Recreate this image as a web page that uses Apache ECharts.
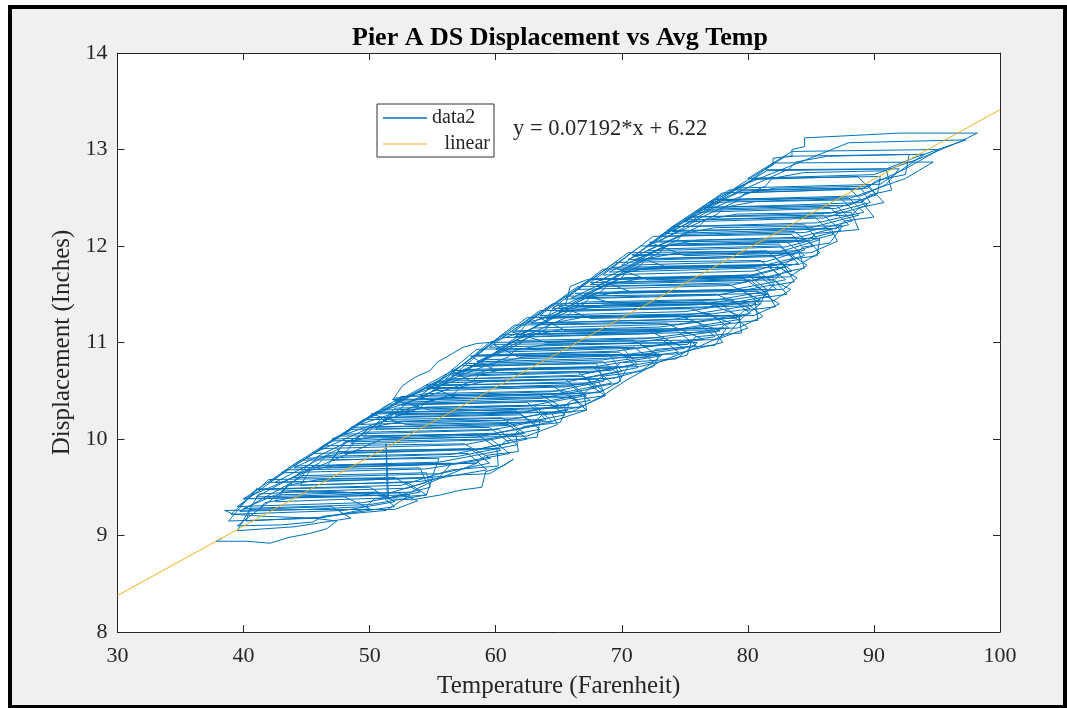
<!DOCTYPE html>
<html>
<head>
<meta charset="utf-8">
<script src="https://cdn.jsdelivr.net/npm/echarts@6/dist/echarts.min.js"></script>
<style>
html,body{margin:0;padding:0;background:#ffffff;}
#chart{width:1067px;height:708px;}
</style>
</head>
<body>
<div id="chart"></div>
<script>
// ---- tick values ----
const xTickMin = 30, xTickMax = 100, xTickStep = 10;
const yTickMin = 8, yTickMax = 14, yTickStep = 1;

// ---- data2: temperature (F) vs displacement (in) ----
const risingCold = [
  [38.3,8.97],[37.8,8.94],[40.3,8.94],[42.1,8.92],[43.6,8.98],[45.2,9.02],[46.6,9.07],[47.4,9.15],[45.5,9.18],[41.5,9.2],[39.2,9.22],
  [38.5,9.26],[45.5,9.27],[52,9.27],[53.8,9.36],[52.3,9.44],[44,9.45],[41.2,9.43],
  [39.5,9.05],[44,9.09],[48.5,9.18],[47,9.3],[40.5,9.27],
  [40.2,9.15],[46.3,9.19],[52,9.3],[50.5,9.45],[42.5,9.42],
  [40,9.28],[50,9.32],[54.5,9.42],[53,9.55],[43.5,9.52],
  [42.5,9.35],[51.5,9.39],[54.8,9.5],[54.5,9.65],[44.5,9.62],
  [43,9.45],[53,9.49],[55.5,9.6],[56.5,9.75],[45.5,9.72],
  [44.5,9.52],[54,9.56],[59.3,9.68],[57.8,9.85],[46,9.82],
  [44,9.6],[55.5,9.64],[59.5,9.75],[58,9.9],[47.5,9.87],
  [46.5,9.7],[56.5,9.74],[61.1,9.85],[59.6,10.0],[48,9.97],
  [47,9.78],[57,9.82],[61.7,9.94],[60.2,10.1],[49.5,10.07],
  [48,9.85],[58.5,9.89],[62.5,10.0],[61,10.15],[50,10.12],
  [48.5,9.95],[59,9.99],[63.5,10.1],[62,10.25],[51,10.22],
  [49.5,10.02],[60,10.06],[64.5,10.18],[63,10.35],[52,10.32],
  [50.5,10.1],[61,10.14],[65.5,10.25],[64,10.4],[53,10.37]
];
const risingMid = [
  [51,10.18],[62,10.22],[67,10.34],[65.5,10.5],[54.5,10.47],
  [51.9,10.42],[52.6,10.55],[53.6,10.64],[54.8,10.71],[55.4,10.8],[56.1,10.85],[57.4,10.95],[58.5,10.99],[59.5,11.0],[60.7,11.05],
  [61.9,11.1],[62.5,11.21],[64.1,11.26],[64.6,11.37],[65.6,11.41],[65.9,11.58],[67.2,11.65],[74,11.67],[80,11.7],
  [81.5,11.55],[81,11.4],[79.5,11.25],[78.5,11.1],[76,10.95],[73,10.8],[70.5,10.62],[68.5,10.45],[66,10.28],[58,10.26],[55,10.25],
  [52,10.25],[62.5,10.29],[67.5,10.4],[66,10.55],[55.5,10.52],
  [52.5,10.35],[64,10.39],[68.5,10.5],[67,10.65],[56.5,10.62],
  [54,10.42],[64.5,10.46],[69.2,10.58],[67.7,10.75],[57.5,10.72],
  [55,10.5],[65.5,10.54],[70,10.65],[68.5,10.8],[58.5,10.77],
  [55.5,10.58],[66.5,10.62],[71.3,10.74],[69.8,10.9],[59.5,10.87],
  [57,10.65],[67.5,10.69],[72.5,10.8],[71,10.95],[60.5,10.92],
  [58,10.75],[68.5,10.79],[74.5,10.9],[73,11.05],[61.5,11.02],
  [59,10.82],[69.5,10.86],[75.9,10.97],[74.4,11.12],[62.5,11.09],
  [60,10.9],[71,10.94],[77.4,11.06],[75.9,11.22],[63.5,11.19],
  [61,11.0],[72,11.04],[78.5,11.15],[77,11.3],[64.5,11.27],
  [62,11.08],[73.5,11.12],[79.4,11.24],[77.9,11.4],[66,11.37],
  [63,11.15],[74.5,11.19],[80.2,11.3],[78.7,11.45],[67,11.42],
  [64,11.25],[75.5,11.29],[81,11.4],[79.5,11.55],[68,11.52],
  [65,11.32],[76.5,11.36],[81.7,11.48],[80.2,11.65],[69,11.62]
];
const risingWarm = [
  [66,11.4],[77.5,11.44],[82.3,11.55],[80.8,11.7],[70,11.67],
  [67,11.5],[78.5,11.54],[83,11.65],[81.5,11.8],[71,11.77],
  [68,11.58],[79.5,11.62],[83.5,11.74],[82,11.9],[72,11.87],
  [69,11.65],[80,11.69],[84,11.82],[82.5,12.0],[73,11.97],
  [70,11.75],[81,11.79],[84.5,11.9],[83,12.05],[74,12.02],
  [71,11.85],[82,11.89],[85.2,12.0],[83.7,12.15],[75,12.12],
  [72,11.95],[83,11.99],[86.8,12.12],[85.3,12.3],[76,12.27],
  [73,12.05],[84,12.09],[88,12.22],[86.5,12.4],[77,12.37],
  [74,12.15],[85,12.19],[88.8,12.32],[87.3,12.5],[78,12.47],
  [75,12.25],[86,12.29],[89.5,12.42],[88,12.6],[79.5,12.57],
  [76,12.35],[87,12.39],[90.2,12.53],[88.7,12.72],[80.5,12.69],
  [77,12.45],[88,12.49],[92.5,12.7],[94.7,12.87],[82,12.86],
  [79,12.55],[89,12.59],[92.5,12.8],[95.2,13.0],[83.5,12.98],
  [80,12.7],[90,12.74],[93.5,12.9],[96.8,13.08],[98.2,13.17],[92,13.17],[84.5,13.12]
];
const fallingWarm = [
  [84.5,13.03],[83.5,13.0],[83.5,12.93],[82,12.91],[82,12.84],[81.3,12.79],
  [81.3,12.77],[91,12.8],[93.3,12.92],[97.3,13.1],[88,13.07],
  [79,12.6],[90.5,12.64],[92.1,12.78],[94,12.95],[83,12.93],
  [77.5,12.48],[89,12.52],[91,12.64],[92,12.8],[81.5,12.78],
  [76.5,12.38],[88,12.42],[90.3,12.55],[90.5,12.72],[80.5,12.7],
  [75.5,12.3],[86.5,12.34],[89.7,12.45],[89,12.6],[78.5,12.58],
  [74,12.2],[85.5,12.24],[89.2,12.35],[88,12.5],[77.5,12.48],
  [73,12.1],[84.5,12.14],[88.3,12.26],[87,12.42],[76.5,12.4],
  [72,12.0],[83.5,12.04],[87.4,12.16],[86,12.32],[75.5,12.3],
  [71,11.9],[82.5,11.94],[85.6,12.06],[84.5,12.22],[74,12.2],
  [70,11.8],[81.5,11.84],[84.5,11.96],[83.5,12.12],[72.5,12.1],
  [68.5,11.7],[80.5,11.74],[83.7,11.86],[82.5,12.02],[71.5,12.0],
  [67.5,11.62],[79.5,11.66],[83,11.78],[81.5,11.95],[70.5,11.93],
  [66.5,11.55],[78.5,11.59],[82.5,11.7],[81,11.85],[69.5,11.83],
  [65.5,11.45],[77.5,11.49],[82.1,11.6],[80.5,11.78],[68.5,11.76]
];
const fallingMid = [
  [64.5,11.35],[76,11.39],[81.6,11.5],[79.5,11.68],[67.5,11.66],
  [63.5,11.28],[75,11.32],[81,11.44],[78.5,11.6],[66.5,11.58],
  [62.5,11.2],[74,11.24],[80.2,11.35],[77.5,11.5],[65.5,11.48],
  [61.5,11.12],[73,11.16],[79.5,11.27],[76.5,11.42],[64.5,11.4],
  [60.5,11.05],[72,11.09],[78.7,11.2],[75.5,11.35],[63.5,11.33],
  [59.5,10.95],[70.5,10.99],[77.8,11.12],[74.5,11.28],[62.5,11.26],
  [58.5,10.87],[69.5,10.91],[76.5,11.03],[73.5,11.2],[61.5,11.18],
  [57.5,10.78],[68.5,10.82],[75,10.94],[72.5,11.1],[60.5,11.08],
  [57,10.7],[67.5,10.74],[73,10.86],[71,11.02],[59.5,11.0],
  [56,10.62],[66.5,10.66],[71.2,10.78],[70,10.95],[58.5,10.93],
  [55,10.55],[65.5,10.59],[70,10.7],[69,10.88],[58.3,10.86],
  [54,10.45],[64.5,10.49],[68.6,10.6],[68,10.78],[57.3,10.76],
  [52,10.38],[63.5,10.42],[68,10.53],[66.5,10.7],[56.5,10.68],
  [51,10.3],[62.5,10.34],[67.2,10.45],[65.5,10.62],[55.5,10.6]
];
const fallingCold = [
  [50,10.22],[61.5,10.26],[66.6,10.38],[64.5,10.55],[54.5,10.53],
  [49,10.15],[60.5,10.19],[65.7,10.3],[63.5,10.46],[52.5,10.44],
  [48,10.05],[59.5,10.09],[64,10.2],[62.5,10.38],[51.5,10.36],
  [47,9.98],[58.5,10.02],[63.3,10.14],[61.5,10.3],[50.5,10.28],
  [46,9.9],[57.5,9.94],[62.3,10.06],[60.5,10.22],[49.5,10.2],
  [45,9.8],[56.5,9.84],[61.1,9.96],[59.5,10.12],[48.5,10.1],
  [44,9.72],[55.5,9.76],[60.4,9.88],[58.5,10.05],[47.5,10.03],
  [43,9.65],[54.5,9.69],[59.6,9.8],[57.5,9.95],[46.5,9.93],
  [42,9.55],[53.5,9.59],[57.4,9.63],[59.5,9.64],[61.4,9.79],[60.6,9.72],[59.2,9.66],[58.9,9.5],[57.2,9.47],[55.6,9.42],[53.4,9.37],[51.4,9.38],[51.3,9.95],[51.5,9.4],[48,9.45],
  [41,9.48],[52.5,9.52],[55,9.62],[55.5,9.8],[44.5,9.78],
  [40,9.38],[51,9.42],[54.5,9.55],[54,9.7],[43.5,9.68],
  [39.5,9.3],[49.5,9.34],[54,9.45],[52,9.6],[42,9.58],
  [39,9.22],[48,9.26],[52,9.35],[50,9.5],[41,9.48],
  [38.8,9.15],[46,9.18],[50,9.28],[48,9.4],[40,9.38]
];
const autumnSwing = [
  [51,10.0],[62.5,10.03],[64.9,10.15],[64.4,10.28],[50.1,10.26],
  [52.9,10.15],[64.4,10.18],[67.2,10.3],[66,10.43],[51.8,10.41],
  [54.8,10.3],[66.7,10.33],[68.7,10.45],[67.2,10.58],[54.5,10.56],
  [56.5,10.45],[68.2,10.48],[69.9,10.6],[69.6,10.73],[56.5,10.71],
  [58,10.6],[69.4,10.63],[72.5,10.75],[73,10.88],[58,10.86],
  [59.8,10.72],[71.4,10.75],[75.2,10.87],[75.5,11.0],[59.8,10.98],
  [61.8,10.85],[74.2,10.88],[78,11.0],[77.3,11.13],[61.3,11.11],
  [64,11.0],[77.5,11.03],[80,11.15],[78.8,11.28],[63.4,11.26],
  [65.6,11.12],[79.2,11.15],[81.2,11.27],[80,11.4],[65,11.38],
  [67.5,11.25],[80.5,11.28],[82.5,11.4],[80.8,11.53],[66.3,11.51],
  [69.5,11.4],[82,11.43],[83.4,11.55],[81.4,11.68],[68,11.66],
  [70.8,11.52],[82.8,11.55],[83.9,11.67],[82.2,11.8],[69.3,11.78],
  [72.1,11.65],[83.3,11.68],[84.7,11.8],[83.2,11.93],[70.8,11.91],
  [73.6,11.78],[84.1,11.81],[85.7,11.93],[84.8,12.06],[72.2,12.04],
  [75,11.9],[85,11.93],[87.1,12.05],[86.6,12.18],[73.6,12.16]
];
const lateFall = [
  [78,12.55],[84,12.57],[89.5,12.6],[90.2,12.68],[92.5,12.74],[92.8,12.95],[86.3,12.93],[83.8,12.87],[83.3,12.8],
  [76.5,12.4],[82.5,12.42],[89,12.45],[89.7,12.53],[91.4,12.58],[91,12.78],[84.4,12.76],[81.9,12.7],[81.4,12.62],
  [75,12.27],[81,12.29],[88.2,12.32],[88.9,12.4],[90.8,12.45],[89.6,12.62],[82.2,12.6],[79.7,12.54],[79.2,12.47],
  [73.5,12.13],[79.5,12.15],[87,12.18],[87.7,12.26],[90,12.3],[88.9,12.48],[80.6,12.46],[78.1,12.4],[77.6,12.33],
  [72,12.0],[78,12.02],[84.7,12.05],[85.4,12.13],[88.8,12.17],[88.2,12.35],[79.1,12.33],[76.6,12.27],[76.1,12.2],
  [70.5,11.86],[76.5,11.88],[83.7,11.91],[84.4,11.99],[86.5,12.03],[87.5,12.21],[77.4,12.19],[74.9,12.13],[74.4,12.06],
  [69,11.73],[75,11.75],[82.7,11.78],[83.4,11.86],[85.5,11.9],[85.7,12.08],[76,12.06],[73.5,12.0],[73,11.93],
  [67.5,11.6],[73.5,11.62],[82.1,11.65],[82.8,11.73],[84.5,11.77],[84,11.95],[74.5,11.93],[72,11.87],[71.5,11.8],
  [66,11.46],[72,11.48],[81.3,11.51],[82,11.59],[83.7,11.63],[82.8,11.81],[72.9,11.79],[70.4,11.73],[69.9,11.66],
  [64.5,11.33],[70.5,11.35],[80.3,11.38],[81,11.46],[83.1,11.5],[81.9,11.68],[71.4,11.66],[68.9,11.6],[68.4,11.53],
  [62.8,11.2],[69,11.22],[79,11.25],[79.7,11.33],[82.2,11.37],[81.4,11.55],[70,11.53],[67.5,11.47],[67,11.4]
];
const earlyWinter = [
  [61.5,11.06],[67.5,11.08],[77.5,11.11],[78.2,11.19],[80.8,11.23],[80.6,11.41],[68.6,11.39],[66.1,11.33],[65.6,11.26],
  [60,10.93],[66,10.95],[75.2,10.98],[75.9,11.06],[79.5,11.1],[79.3,11.28],[66.9,11.26],[64.4,11.2],[63.9,11.13],
  [58.5,10.8],[64.5,10.82],[72,10.85],[72.7,10.93],[77.4,10.97],[78.3,11.15],[65.1,11.13],[62.6,11.07],[62.1,11.0],
  [56.5,10.66],[62.5,10.68],[69.2,10.71],[69.9,10.79],[74.3,10.83],[76,11.0],[64,10.98],[61.5,10.92],[61,10.85],
  [54.5,10.52],[60.5,10.54],[67.7,10.57],[68.4,10.65],[71.5,10.7],[73.2,10.87],[62.3,10.85],[60,10.79],[59.5,10.72],
  [52,10.4],[58.5,10.42],[66.8,10.45],[67.5,10.53],[69.7,10.58],[70.5,10.75],[61,10.73],[58.7,10.67],[58.2,10.6],
  [50.5,10.27],[57,10.29],[65.3,10.32],[66,10.4],[68.7,10.45],[68.1,10.62],[59.2,10.6],[57.2,10.54],[56.7,10.47],
  [48.5,10.12],[55,10.14],[63,10.17],[63.7,10.25],[67.2,10.3],[67,10.47],[57,10.45],[54.5,10.39],[54,10.32],
  [47,10.0],[53.5,10.02],[61.5,10.05],[62.2,10.13],[65.1,10.17],[65.8,10.35],[54.5,10.33],[52,10.27],[51.4,10.2],
  [45.5,9.85],[52,9.87],[60.1,9.9],[60.8,9.98],[63.3,10.02],[63.5,10.2],[52.5,10.18],[50,10.12],[49.5,10.05],
  [44,9.7],[50,9.72],[58.5,9.75],[59.2,9.83],[61.8,9.87],[61.6,10.05],[50.6,10.03],[48.2,9.97],[47.6,9.9],
  [42.5,9.55],[48.5,9.57],[54.5,9.6],[56.5,9.68],[60.2,9.72],[60.1,9.9],[49,9.88],[46.5,9.82],[46,9.75],
  [41,9.4],[47,9.42],[53.3,9.45],[54,9.5],[54.8,9.55],[58.5,9.75],[47.5,9.73],[45,9.67],[44.5,9.6],
  [39.7,9.25],[45,9.27],[49.7,9.3],[50.4,9.38],[54.5,9.42],[55,9.6],[46,9.58],[43.5,9.52],[43,9.45],
  [39.5,9.1],[43,9.11],[45.5,9.14],[46.3,9.2],[51.3,9.26],[53.2,9.42],[44.2,9.4],[41.7,9.34],[41.2,9.27]
];
// ---- linear fit: y = 0.07192*x + 6.22, end points ----
const fitLine = [[30, 8.378], [100, 13.412]];
const fitLabel = 'y = 0.07192*x + 6.22';

const data2 = [].concat(risingCold, risingMid, risingWarm, fallingWarm, fallingMid, fallingCold, autumnSwing, lateFall, earlyWinter);

const FONT = '"Liberation Serif", "Times New Roman", serif';
const TXT = '#262626';
const AX = '#262626';

function axisCommon(pos, showLabel) {
  return {
    position: pos,
    axisLine: { show: true, onZero: false, lineStyle: { color: AX, width: 1 } },
    axisTick: { show: true, inside: true, length: 7, lineStyle: { color: AX, width: 1 } },
    splitLine: { show: false },
    axisLabel: showLabel ? { fontFamily: FONT, fontSize: 22, color: TXT } : { show: false }
  };
}

const chart = echarts.init(document.getElementById('chart'), null, { renderer: 'canvas' });
const option = {
  animation: false,
  backgroundColor: '#ffffff',
  title: {
    text: 'Pier A DS Displacement vs Avg Temp',
    left: 555, top: 20, textAlign: 'center',
    textStyle: { fontFamily: FONT, fontWeight: 'bold', fontSize: 26, color: '#000000' }
  },
  grid: { left: 117.5, right: 67, top: 53, bottom: 76, show: true, backgroundColor: '#ffffff', borderWidth: 0 },
  legend: {
    left: 377, top: 104, orient: 'vertical', icon: 'rect',
    padding: [4, 4, 3, 6], itemGap: 6, itemWidth: 44, itemHeight: 1.5,
    backgroundColor: '#ffffff', borderColor: '#333333', borderWidth: 1, borderRadius: 0,
    data: ['data2', 'linear'],
    formatter: function (name) { return name === 'linear' ? '{r|linear}' : '{l|data2}'; },
    textStyle: {
      fontFamily: FONT, fontSize: 20, color: TXT,
      rich: {
        l: { width: 58, height: 20, align: 'left', fontFamily: FONT, fontSize: 20, color: TXT },
        r: { width: 58, height: 20, align: 'right', fontFamily: FONT, fontSize: 20, color: TXT }
      }
    }
  },
  xAxis: [
    Object.assign({ type: 'value', min: xTickMin, max: xTickMax, interval: xTickStep,
      name: 'Temperature (Farenheit)', nameLocation: 'middle', nameGap: 42,
      nameTextStyle: { fontFamily: FONT, fontSize: 25, color: TXT } }, axisCommon('bottom', true),
      { axisLabel: { margin: 13, fontFamily: FONT, fontSize: 22, color: TXT } }),
    Object.assign({ type: 'value', min: xTickMin, max: xTickMax, interval: xTickStep }, axisCommon('top', false))
  ],
  yAxis: [
    Object.assign({ type: 'value', min: yTickMin, max: yTickMax, interval: yTickStep,
      name: 'Displacement (Inches)', nameLocation: 'middle', nameGap: 37,
      nameTextStyle: { fontFamily: FONT, fontSize: 25, color: TXT } }, axisCommon('left', true),
      { axisLabel: { margin: 10, fontFamily: FONT, fontSize: 22, color: TXT } }),
    Object.assign({ type: 'value', min: yTickMin, max: yTickMax, interval: yTickStep }, axisCommon('right', false))
  ],
  graphic: [
    { type: 'rect', z: -100, silent: true,
      shape: { x: 10, y: 7, width: 1055, height: 700 },
      style: { fill: '#f0f0f0', stroke: '#000000', lineWidth: 4 } },
    { type: 'text', z: 100, left: 513, top: 118, silent: true,
      style: { text: fitLabel, font: '22.5px "Liberation Serif"', fill: TXT } }
  ],
  series: [
    { name: 'data2', type: 'line', xAxisIndex: 0, yAxisIndex: 0, data: data2,
      symbol: 'none', showSymbol: false, z: 2,
      lineStyle: { color: '#0072BD', width: 1 }, itemStyle: { color: '#0072BD' } },
    { name: 'linear', type: 'line', xAxisIndex: 0, yAxisIndex: 0, data: fitLine,
      symbol: 'none', showSymbol: false, z: 3,
      lineStyle: { color: '#EDB120', width: 1 }, itemStyle: { color: '#F5C871' } }
  ]
};
chart.setOption(option);
</script>
</body>
</html>
